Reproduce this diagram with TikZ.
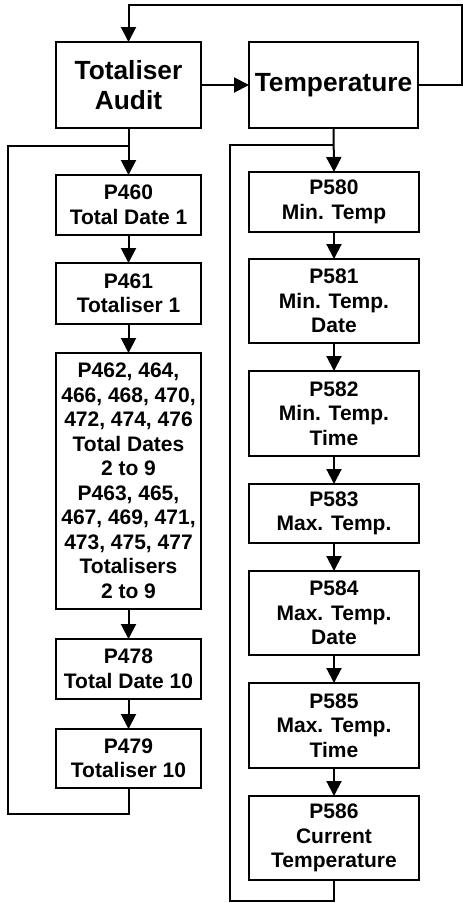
\documentclass[tikz,border=0pt]{standalone}
\usepackage{fontspec}
\setmainfont{Liberation Sans}
\usetikzlibrary{arrows.meta}
\begin{document}
\begin{tikzpicture}[x=1pt,y=-1pt,
  box/.style={draw, line width=2pt, rectangle, inner sep=0pt, outer sep=0pt, align=center,
    font=\bfseries\fontsize{21}{24.5}\selectfont},
  lbox/.style={box, minimum width=145pt},
  rbox/.style={box, minimum width=170pt},
  big/.style={font=\bfseries\fontsize{26.3}{30}\selectfont},
  conn/.style={line width=2pt},
  arr/.style={conn, -{Triangle[length=15pt,width=15pt]}},
]
\useasboundingbox (0,0) rectangle (463,903);

% top boxes
\node[lbox, big, minimum height=86pt] (TA) at (128.5,85) {Totaliser\\Audit};
\node[rbox, big, minimum height=86pt, minimum width=169pt] (TE) at (333.5,85) {Temperature};

% left column
\node[lbox, minimum height=60pt] (P460) at (128.5,205) {P460\\Total Date 1};
\node[lbox, minimum height=61pt] (P461) at (128.5,293.5) {P461\\Totaliser 1};
\node[lbox, minimum height=256pt] (P462) at (128.5,481) {P462, 464,\\466, 468, 470,\\472, 474, 476\\Total Dates\\2 to 9\\P463, 465,\\467, 469, 471,\\473, 475, 477\\Totalisers\\2 to 9};
\node[lbox, minimum height=60pt] (P478) at (128.5,669) {P478\\Total Date 10};
\node[lbox, minimum height=59pt] (P479) at (128.5,758.5) {P479\\Totaliser 10};

% right column
\node[rbox, minimum height=60pt] (P580) at (334,202) {P580\\Min. Temp};
\node[rbox, minimum height=84pt] (P581) at (334,301) {P581\\Min. Temp.\\Date};
\node[rbox, minimum height=85pt] (P582) at (334,413.5) {P582\\Min. Temp.\\Time};
\node[rbox, minimum height=59pt] (P583) at (334,513.5) {P583\\Max. Temp.};
\node[rbox, minimum height=84pt] (P584) at (334,613) {P584\\Max. Temp.\\Date};
\node[rbox, minimum height=85pt] (P585) at (334,725.5) {P585\\Max. Temp.\\Time};
\node[rbox, minimum height=84pt] (P586) at (334,838) {P586\\Current\\Temperature};

% helper coordinates
\coordinate (t1) at (462,85);
\coordinate (t2) at (462,5);
\coordinate (t3) at (128.5,5);
\coordinate (l1) at (128.5,814);
\coordinate (l2) at (8,814);
\coordinate (l3) at (8,146);
\coordinate (l4) at (128.5,146);
\coordinate (r1) at (334,901);
\coordinate (r2) at (230,901);
\coordinate (r3) at (230,145);
\coordinate (r4) at (334,145);

% connectors
\draw[arr] (TA.east) -- (TE.west);
\draw[arr] (TE.east) -- (t1) -- (t2) -- (t3) -- (TA.north);

\draw[arr] (TA.south) -- (P460.north);
\draw[arr] (P460.south) -- (P461.north);
\draw[arr] (P461.south) -- (P462.north);
\draw[arr] (P462.south) -- (P478.north);
\draw[arr] (P478.south) -- (P479.north);
\draw[conn] (P479.south) -- (l1) -- (l2) -- (l3) -- (l4);

\draw[arr] (TE.south) -- (P580.north);
\draw[arr] (P580.south) -- (P581.north);
\draw[arr] (P581.south) -- (P582.north);
\draw[arr] (P582.south) -- (P583.north);
\draw[arr] (P583.south) -- (P584.north);
\draw[arr] (P584.south) -- (P585.north);
\draw[arr] (P585.south) -- (P586.north);
\draw[conn] (P586.south) -- (r1) -- (r2) -- (r3) -- (r4);
\end{tikzpicture}
\end{document}
